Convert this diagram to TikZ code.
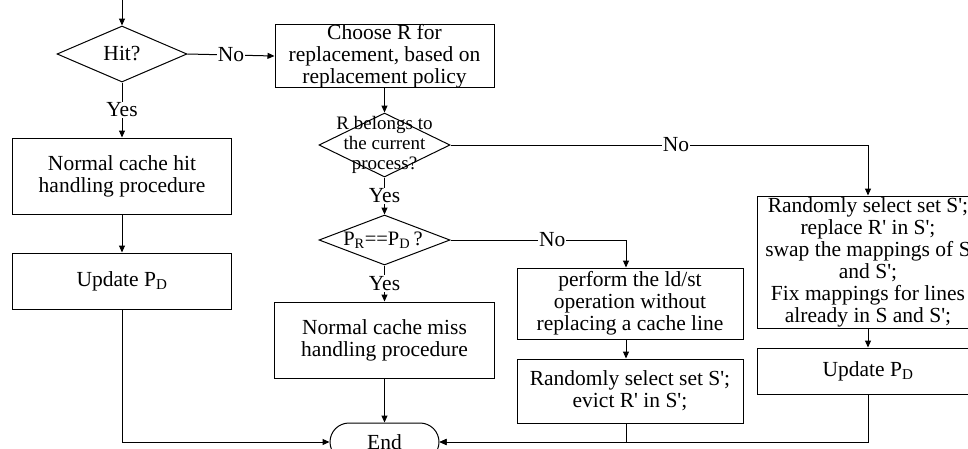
\documentclass[tikz,border=0pt]{standalone}
\usepackage{fontspec}
\setmainfont{Liberation Serif}
\usetikzlibrary{arrows.meta,shapes.geometric,shapes.misc}
\newcommand{\sq}{\textquotesingle}
\begin{document}
\begin{tikzpicture}[x=1pt,y=-1pt,
  every node/.style={font=\fontsize{21.5}{22}\selectfont},
  box/.style={draw, rectangle, align=center, inner sep=0pt, line width=1pt},
  dia/.style={draw, diamond, inner sep=0pt, line width=1pt},
  dtext/.style={align=center, inner sep=0pt, font=\fontsize{19}{20}\selectfont},
  arr/.style={-{Triangle[length=7pt,width=6pt]}, line width=1pt},
  lab/.style={fill=white, inner sep=1pt}]
\useasboundingbox (0,0) rectangle (968,448);

% left column
\coordinate (start) at (122,0);
\node[dia, minimum width=130pt, minimum height=56pt] (hit) at (122,54) {};
\node[dtext, font=\fontsize{21.5}{22}\selectfont] (hitt) at (hit) {Hit?};
\node[box, minimum width=219pt, minimum height=76pt] (hh) at (122,176) {Normal cache hit\\handling procedure};
\node[box, minimum width=219pt, minimum height=56pt] (up1) at (122,281) {Update P\textsubscript{D}};

% middle column
\node[box, minimum width=219pt, minimum height=60pt] (choose) at (384.5,56) {Choose R for\\replacement, based on\\replacement policy};
\node[dia, minimum width=131pt, minimum height=64pt] (rb) at (384.5,145) {};
\node[dtext] (rbt) at (384.5,145) {R belongs to\\the current\\process?};
\node[dia, minimum width=131pt, minimum height=50pt] (pr) at (384.5,240) {};
\node[dtext, font=\fontsize{20.5}{21}\selectfont] (prt) at (383,240) {P\textsubscript{R}==P\textsubscript{D}\,?};
\node[box, minimum width=220pt, minimum height=76pt] (mh) at (384.5,340) {Normal cache miss\\handling procedure};
\node[draw, rounded rectangle, line width=1pt, minimum width=109pt, minimum height=38pt, inner sep=0pt] (end) at (384.5,442) {End};

% third column
\node[box, minimum width=226pt, minimum height=71pt] (perf) at (630,303.5) {perform the ld/st\\operation without\\replacing a cache line};
\node[box, minimum width=226pt, minimum height=64pt] (rev) at (630,391) {Randomly select set S\sq;\\evict R\sq{} in S\sq;};

% right column
\node[box, minimum width=222pt, minimum height=132pt] (rs) at (868,262) {Randomly select set S\sq;\\replace R\sq{} in S\sq;\\swap the mappings of S\\and S\sq;\\Fix mappings for lines\\already in S and S\sq;};
\node[box, minimum width=222pt, minimum height=46pt] (up2) at (868,371) {Update P\textsubscript{D}};

% connectors
\draw[arr] (start) -- (hit.north);
\draw[arr] (hit.east) -- node[lab] {No} (choose.west);
\draw[arr] (hit.south) -- node[lab] {Yes} (hh.north);
\draw[arr] (hh.south) -- (up1.north);
\draw[arr] (up1.south) |- (end.west);

\draw[arr] (choose.south) -- (rb.north);
\draw[arr] (rb.east) -| node[lab, pos=0.27] {No} (rs.north);
\draw[arr] (rb.south) -- node[lab] {Yes} (pr.north);
\draw[arr] (pr.east) -| node[lab, pos=0.29] {No} ([xshift=-4pt]perf.north);
\draw[arr] (pr.south) -- node[lab] {Yes} (mh.north);
\draw[arr] (mh.south) -- (end.north);

\draw[arr] ([xshift=-4pt]perf.south) -- ([xshift=-4pt]rev.north);
\draw[arr] ([xshift=-4pt]rev.south) |- (end.east);

\draw[arr] (rs.south) -- (up2.north);
\draw[arr] (up2.south) |- (end.east);
\end{tikzpicture}
\end{document}
